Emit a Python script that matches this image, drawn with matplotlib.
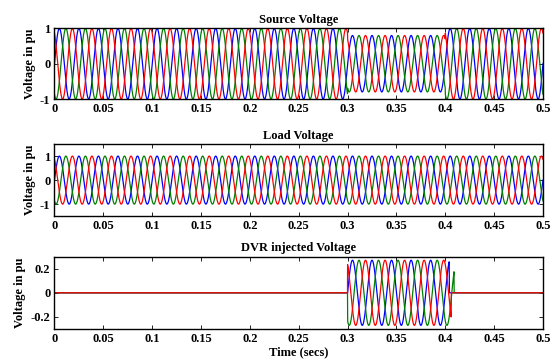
import numpy as np
import matplotlib.pyplot as plt

# Параметры трехфазной сети
freq = 50.0                     # Гц
phase_names = ["a", "b", "c"]
phase_colors = ["#0000ff", "#008000", "#ff0000"]
phase_shift_deg = [0, -120, 120]

# Источник: провал напряжения 0.3 - 0.4 с
source_breaks = [0.0, 0.3, 0.4, 0.5]
source_amp = [1.0, 0.8, 1.0]

# Нагрузка: амплитуда сохраняется
load_amp = 1.0

# DVR: вводимое напряжение, окончание по фазам
dvr_start = 0.3
dvr_end = [0.404, 0.409, 0.406]
dvr_amp = 0.27

x_ticks = [0, 0.05, 0.1, 0.15, 0.2, 0.25, 0.3, 0.35, 0.4, 0.45, 0.5]
x_tick_labels = ["0", "0.05", "0.1", "0.15", "0.2", "0.25", "0.3", "0.35", "0.4", "0.45", "0.5"]

t = np.linspace(0, 0.5, 5001)

plt.rcParams['font.family'] = ['Liberation Serif', 'DejaVu Serif']
plt.rcParams['font.weight'] = 'bold'
plt.rcParams['font.size'] = 9

fig = plt.figure(figsize=(5.52, 3.62), dpi=100)
ax1 = fig.add_axes([0.0987, 0.7265, 0.885, 0.195])
ax2 = fig.add_axes([0.0987, 0.403, 0.885, 0.199])
ax3 = fig.add_axes([0.0987, 0.0912, 0.885, 0.2])


def style(ax, title, ylim, yticks, ylabels):
    ax.set_xlim(0, 0.5)
    ax.set_ylim(*ylim)
    ax.set_xticks(x_ticks)
    ax.set_xticklabels(x_tick_labels, fontweight='bold', fontsize=9)
    ax.set_yticks(yticks)
    ax.set_yticklabels(ylabels, fontweight='bold', fontsize=9)
    ax.tick_params(direction='in', length=3, width=0.6, top=True, right=True, pad=3)
    ax.set_title(title, fontweight='bold', fontsize=9, pad=4)
    ax.set_ylabel("Voltage in pu", fontweight='bold', fontsize=9, labelpad=3)
    for s in ax.spines.values():
        s.set_linewidth(1.0)


# Напряжение источника
for i in range(3):
    amp = np.zeros_like(t)
    for k in range(len(source_amp)):
        m = (t >= source_breaks[k]) & (t <= source_breaks[k + 1])
        amp[m] = source_amp[k]
    y = amp * np.sin(2 * np.pi * freq * t + np.radians(phase_shift_deg[i]))
    ax1.plot(t, y, color=phase_colors[i], linewidth=0.9)
style(ax1, "Source Voltage", (-1, 1), [-1, 0, 1], ["-1", "0", "1"])

# Напряжение нагрузки
for i in range(3):
    y = load_amp * np.sin(2 * np.pi * freq * t + np.radians(phase_shift_deg[i]))
    ax2.plot(t, y, color=phase_colors[i], linewidth=0.9)
style(ax2, "Load Voltage", (-1.5, 1.5), [-1, 0, 1], ["-1", "0", "1"])

# Напряжение DVR
for i in range(3):
    m = (t >= dvr_start) & (t <= dvr_end[i])
    y = np.where(m, dvr_amp * np.sin(2 * np.pi * freq * t + np.radians(phase_shift_deg[i])), 0.0)
    ax3.plot(t, y, color=phase_colors[i], linewidth=0.9)
style(ax3, "DVR injected Voltage", (-0.3, 0.3), [-0.2, 0, 0.2], ["-0.2", "0", "0.2"])
ax3.set_xlabel("Time (secs)", fontweight='bold', fontsize=9, labelpad=1)

plt.savefig("out.png", dpi=100)
